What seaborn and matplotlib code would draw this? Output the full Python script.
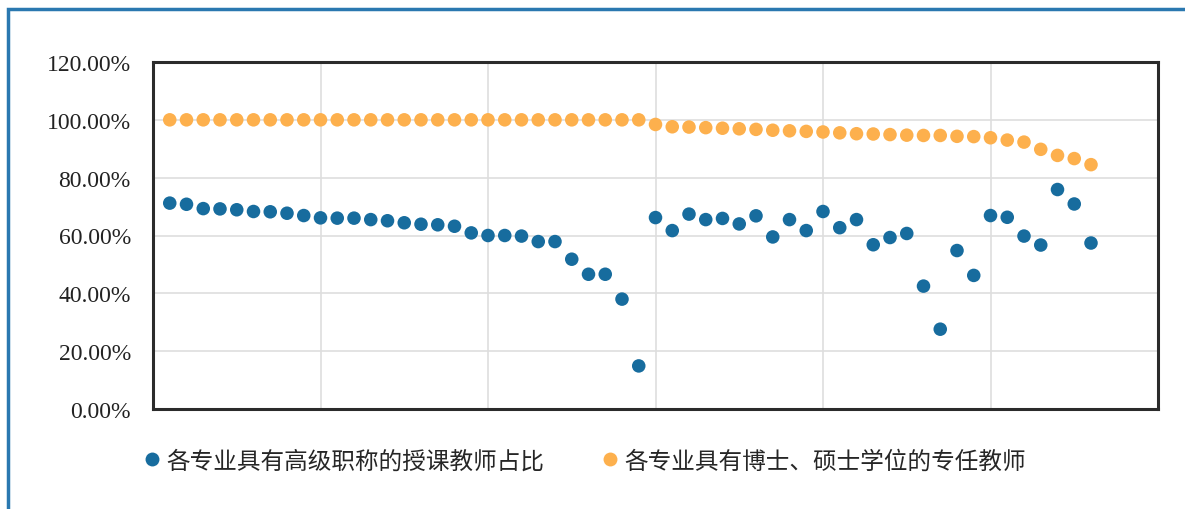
import numpy as np
import pandas as pd
import matplotlib
matplotlib.use("Agg")
import matplotlib.pyplot as plt
import matplotlib.patches as mpatches
from matplotlib.lines import Line2D
import seaborn as sns

series_names = ["各专业具有高级职称的授课教师占比", "各专业具有博士、硕士学位的专任教师"]
senior_title = [71.2, 70.8, 69.3, 69.2, 68.9, 68.3, 68.2, 67.7, 66.9, 66.1,
                66.0, 66.0, 65.5, 65.1, 64.4, 63.9, 63.7, 63.2, 60.9, 60.0,
                60.0, 59.8, 57.9, 57.9, 51.8, 46.6, 46.6, 38.0, 14.9, 66.2,
                61.7, 67.4, 65.5, 65.9, 64.0, 66.8, 59.5, 65.5, 61.7, 68.3,
                62.7, 65.5, 56.8, 59.3, 60.7, 42.5, 27.6, 54.8, 46.2, 66.9,
                66.3, 59.8, 56.7, 75.9, 70.9, 57.4]
degree = [100.0] * 29 + [98.4, 97.6, 97.5, 97.3, 97.1, 96.9, 96.7, 96.4, 96.2, 96.0,
                         95.8, 95.5, 95.2, 95.1, 94.9, 94.7, 94.6, 94.6, 94.3, 94.2,
                         93.8, 93.0, 92.3, 89.8, 87.7, 86.6, 84.5]
y_ticks = [0, 20, 40, 60, 80, 100, 120]
y_tick_labels = ["0.00%", "20.00%", "40.00%", "60.00%", "80.00%", "100.00%", "120.00%"]
colors = ["#176C9E", "#FDB04D"]

n = len(senior_title)
idx = np.arange(1, n + 1)
df = pd.DataFrame({
    "x": np.concatenate([idx, idx]),
    "y": senior_title + degree,
    "series": [series_names[0]] * n + [series_names[1]] * n,
})

sns.set_theme(style="white")
plt.rcParams["font.family"] = ["Noto Sans CJK SC", "DejaVu Sans"]

fig = plt.figure(figsize=(11.85, 5.10), dpi=100)
ax = fig.add_axes([153 / 1185, 1 - 410 / 510, (1158 - 153) / 1185, (410 - 63) / 510])

sns.scatterplot(data=df, x="x", y="y", hue="series", palette=colors,
                s=95, linewidth=0, ax=ax, legend=False, zorder=3)

ax.set_xlim(0, 60)
ax.set_ylim(0, 120)
ax.set_xticks([0, 10, 20, 30, 40, 50, 60])
ax.set_xticklabels([])
ax.set_yticks(y_ticks)
ax.set_yticklabels(y_tick_labels, family="Liberation Serif", fontsize=17, color="#222222")
ax.tick_params(axis="both", length=0)
ax.tick_params(axis="y", pad=16)
ax.set_xlabel("")
ax.set_ylabel("")
ax.grid(True, color="#DEDEDE", linewidth=1.2, zorder=0)
ax.set_axisbelow(True)
for sp in ax.spines.values():
    sp.set_visible(True)
    sp.set_color("#2B2B2B")
    sp.set_linewidth(2.2)

handles = [Line2D([0], [0], marker="o", linestyle="", markersize=10,
                  markerfacecolor=c, markeredgewidth=0) for c in colors]
fig.legend(handles, series_names, loc="center", bbox_to_anchor=(0.492, 1 - 462 / 510),
           ncol=2, frameon=False, handletextpad=0.1,
           columnspacing=2.3, handlelength=1.0,
           prop={"family": ["Noto Sans CJK SC", "DejaVu Sans"], "size": 17})

border = mpatches.Rectangle((8 / 1185, -0.2), 1.5, 1 - 10 / 510 + 0.2,
                            transform=fig.transFigure, fill=False,
                            edgecolor="#2A78B0", linewidth=2.5, clip_on=False)
fig.patches.append(border)

fig.savefig("out.png", dpi=100)
